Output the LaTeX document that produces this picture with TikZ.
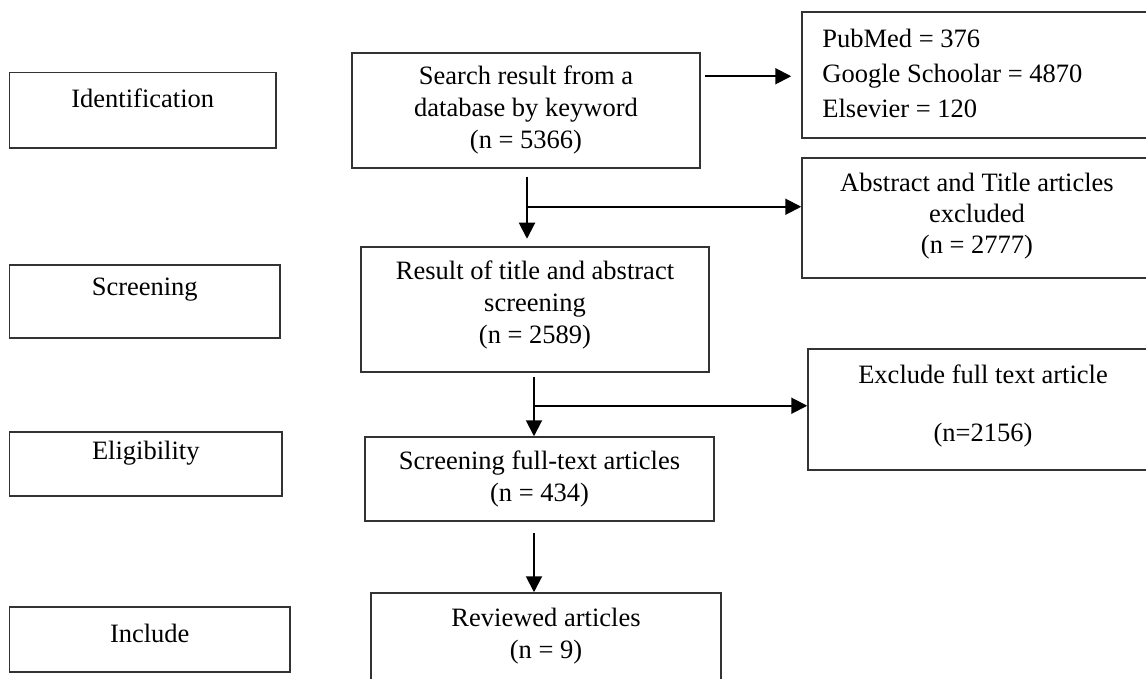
\documentclass[tikz,border=0pt]{standalone}
\usepackage{fontspec}
\setmainfont{Liberation Serif}
\usetikzlibrary{arrows.meta,calc}
\begin{document}
\begin{tikzpicture}[x=0.5pt,y=-0.5pt,
  box/.style={draw=black!80,line width=0.75pt,inner sep=0pt,rectangle},
  txt/.style={inner sep=0pt,align=center,font=\fontsize{13.25pt}{16pt}\selectfont},
  arr/.style={line width=1pt,-{Triangle[length=8pt,width=8pt]}}]
\useasboundingbox (0,0) rectangle (1146,679);
\clip (0,0) rectangle (1146,679);
% left stage boxes
\node[box,minimum width=133.25pt,minimum height=37.75pt] (ident) at (142.75,110.25) {};
\node[box,minimum width=135.25pt,minimum height=36.5pt] (screen) at (144.75,301.5) {};
\node[box,minimum width=136.25pt,minimum height=32pt] (elig) at (145.75,464) {};
\node[box,minimum width=140.25pt,minimum height=32.5pt] (incl) at (149.75,639.5) {};
\node[txt] (identT) at (142.75,98) {Identification};
\node[txt] (screenT) at (144.75,290) {Screening};
\node[txt] (eligT) at (145.75,453) {Eligibility};
\node[txt] (inclT) at (149.75,633) {Include};
% centre boxes
\node[box,minimum width=174pt,minimum height=57.5pt] (search) at (526,110.5) {};
\node[box,minimum width=174pt,minimum height=62.5pt] (result) at (535,309.5) {};
\node[box,minimum width=174.5pt,minimum height=42pt] (full) at (539.5,479) {};
\node[box,minimum width=175pt,minimum height=56pt] (rev) at (546,649) {};
\node[txt] (searchT) at (526,110) {Search result from a\\database by keyword\\(n = 5366)};
\node[txt] (resultT) at (535,305) {Result of title and abstract\\screening\\(n = 2589)};
\node[txt] (fullT) at (539.5,479) {Screening full-text articles\\(n = 434)};
\node[txt] (revT) at (546,636) {Reviewed articles\\(n = 9)};
% right boxes
\node[box,minimum width=177pt,minimum height=63pt] (pub) at (979,75) {};
\node[box,minimum width=175pt,minimum height=60pt] (abs) at (977,218) {};
\node[box,minimum width=175pt,minimum height=60.5pt] (excl) at (983,409.5) {};
\node[txt,align=left,anchor=west,font=\fontsize{13.25pt}{17.5pt}\selectfont] (pubT) at (822,73) {PubMed = 376\\Google Schoolar = 4870\\Elsevier = 120};
\node[txt,font=\fontsize{13.25pt}{15.5pt}\selectfont] (absT) at (977,216) {Abstract and Title articles\\excluded\\(n = 2777)};
\node[txt,font=\fontsize{13.25pt}{14.5pt}\selectfont] (exclT) at (983,406) {Exclude full text article\\\mbox{}\\(n=2156)};
% connectors
\draw[arr] ($(search.north east)+(4,24)$) -- ($(pub.north west)+(-10,65)$);
\coordinate (d1) at ($(search.south)+(1,8)$);
\draw[arr] (d1) -- ($(search.south)+(1,70)$);
\coordinate (b1) at ($(search.south)+(1,38)$);
\draw[arr] (b1) -- (b1 -| abs.west);
\coordinate (d2) at ($(result.south)+(-1,4)$);
\draw[arr] (d2) -- (d2 |- full.north);
\coordinate (b2) at ($(result.south)+(-1,33)$);
\draw[arr] (b2) -- (b2 -| excl.west);
\coordinate (d3) at ($(full.south)+(-5.5,11)$);
\draw[arr] (d3) -- (d3 |- rev.north);
\end{tikzpicture}
\end{document}
